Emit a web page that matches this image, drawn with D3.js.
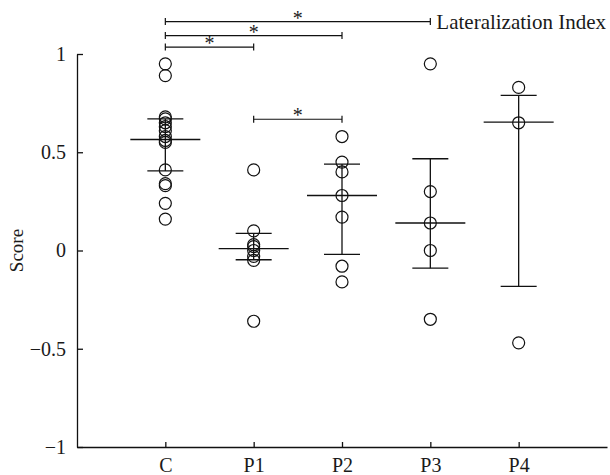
<!DOCTYPE html>
<html>
<head>
<meta charset="utf-8">
<script src="https://cdn.jsdelivr.net/npm/d3@7"></script>
<style>
	body { margin: 0; background: #fff; }
	svg text { font-family: "Liberation Serif", "Times New Roman", serif; fill: #1a1a1a; }
</style>
</head>
<body>
<div id="chart"></div>
<script>
// groups on the x axis
var groups = ['C', 'P1', 'P2', 'P3', 'P4'];

// individual scores per group
var scoresC = [0.95, 0.89, 0.68, 0.67, 0.65, 0.63, 0.61, 0.58, 0.56, 0.55, 0.41, 0.34, 0.33, 0.24, 0.16];
var scoresP1 = [0.41, 0.10, 0.03, 0.02, 0.0, -0.03, -0.05, -0.36];
var scoresP2 = [0.58, 0.45, 0.40, 0.28, 0.17, -0.08, -0.16];
var scoresP3 = [0.95, 0.30, 0.14, 0.0, -0.35];
var scoresP4 = [0.83, 0.65, -0.47];

// centre line and whiskers per group
var centres = [0.565, 0.01, 0.28, 0.14, 0.653];
var lowers = [0.405, -0.047, -0.02, -0.09, -0.183];
var uppers = [0.67, 0.087, 0.44, 0.467, 0.789];

// significance brackets: from, to, level on the score axis
var brackets = [
	['C', 'P3', 1.165],
	['C', 'P2', 1.094],
	['C', 'P1', 1.035],
	['P1', 'P2', 0.668]
];

var yTicks = [-1, -0.5, 0, 0.5, 1];

(function () {
	'use strict';

	var width = 610, height = 475;
	var scores = [scoresC, scoresP1, scoresP2, scoresP3, scoresP4];

	var svg = d3.select('#chart')
		.append('svg')
		.attr('width', width)
		.attr('height', height);

	var x = d3.scalePoint()
		.domain(groups)
		.range([77, 607])
		.padding(1);

	var y = d3.scaleLinear()
		.domain([-1, 1])
		.range([447, 54]);

	var stroke = '#111';

	// axes
	var yAxis = svg.append('g')
		.attr('transform', 'translate(77,0)')
		.call(d3.axisLeft(y)
			.tickValues(yTicks)
			.tickFormat(d3.format('~g'))
			.tickSizeInner(-6)
			.tickSizeOuter(0)
			.tickPadding(11));

	var xAxis = svg.append('g')
		.attr('transform', 'translate(0,447)')
		.call(d3.axisBottom(x)
			.tickSizeInner(-5)
			.tickSizeOuter(0)
			.tickPadding(10.5));

	[xAxis, yAxis].forEach(function (ax) {
		ax.select('.domain').attr('stroke', stroke).attr('stroke-width', 1.3);
		ax.selectAll('.tick line').attr('stroke', stroke).attr('stroke-width', 1.3);
		ax.selectAll('.tick text')
			.attr('font-size', 20)
			.attr('fill', '#1a1a1a')
			.attr('font-family', '"Liberation Serif", serif');
	});

	svg.append('text')
		.attr('transform', 'translate(23,' + y(0) + ') rotate(-90)')
		.attr('text-anchor', 'middle')
		.attr('font-size', 19)
		.text('Score');

	// error bars
	var bars = svg.append('g').attr('class', 'bars');
	groups.forEach(function (g, i) {
		var cx = x(g);
		var b = bars.append('g');
		b.append('line')
			.attr('x1', cx).attr('x2', cx)
			.attr('y1', y(lowers[i])).attr('y2', y(uppers[i]));
		[lowers[i], uppers[i]].forEach(function (v) {
			b.append('line')
				.attr('x1', cx - 18).attr('x2', cx + 18)
				.attr('y1', y(v)).attr('y2', y(v));
		});
		b.append('line')
			.attr('x1', cx - 35).attr('x2', cx + 35)
			.attr('y1', y(centres[i])).attr('y2', y(centres[i]));
	});
	bars.selectAll('line')
		.attr('stroke', stroke)
		.attr('stroke-width', 1.3);

	// individual points
	groups.forEach(function (g, i) {
		svg.append('g')
			.selectAll('circle')
			.data(scores[i])
			.enter()
			.append('circle')
			.attr('cx', x(g))
			.attr('cy', function (d) { return y(d); })
			.attr('r', 6)
			.attr('fill', 'none')
			.attr('stroke', stroke)
			.attr('stroke-width', 1.2);
	});

	// significance brackets
	var sig = svg.append('g').attr('class', 'sig');
	brackets.forEach(function (br) {
		var x1 = x(br[0]), x2 = x(br[1]), by = y(br[2]);
		sig.append('line')
			.attr('x1', x1).attr('x2', x2)
			.attr('y1', by).attr('y2', by);
		[x1, x2].forEach(function (bx) {
			sig.append('line')
				.attr('x1', bx).attr('x2', bx)
				.attr('y1', by - 3.5).attr('y2', by + 3.5);
		});
		sig.append('text')
			.attr('x', (x1 + x2) / 2)
			.attr('y', by + 3)
			.attr('text-anchor', 'middle')
			.attr('font-size', 20)
			.text('*');
	});
	sig.selectAll('line')
		.attr('stroke', stroke)
		.attr('stroke-width', 1.2);

	svg.append('text')
		.attr('x', x('P3') + 6)
		.attr('y', y(brackets[0][2]) + 7)
		.attr('font-size', 21)
		.text('Lateralization Index');
})();
</script>
</body>
</html>
